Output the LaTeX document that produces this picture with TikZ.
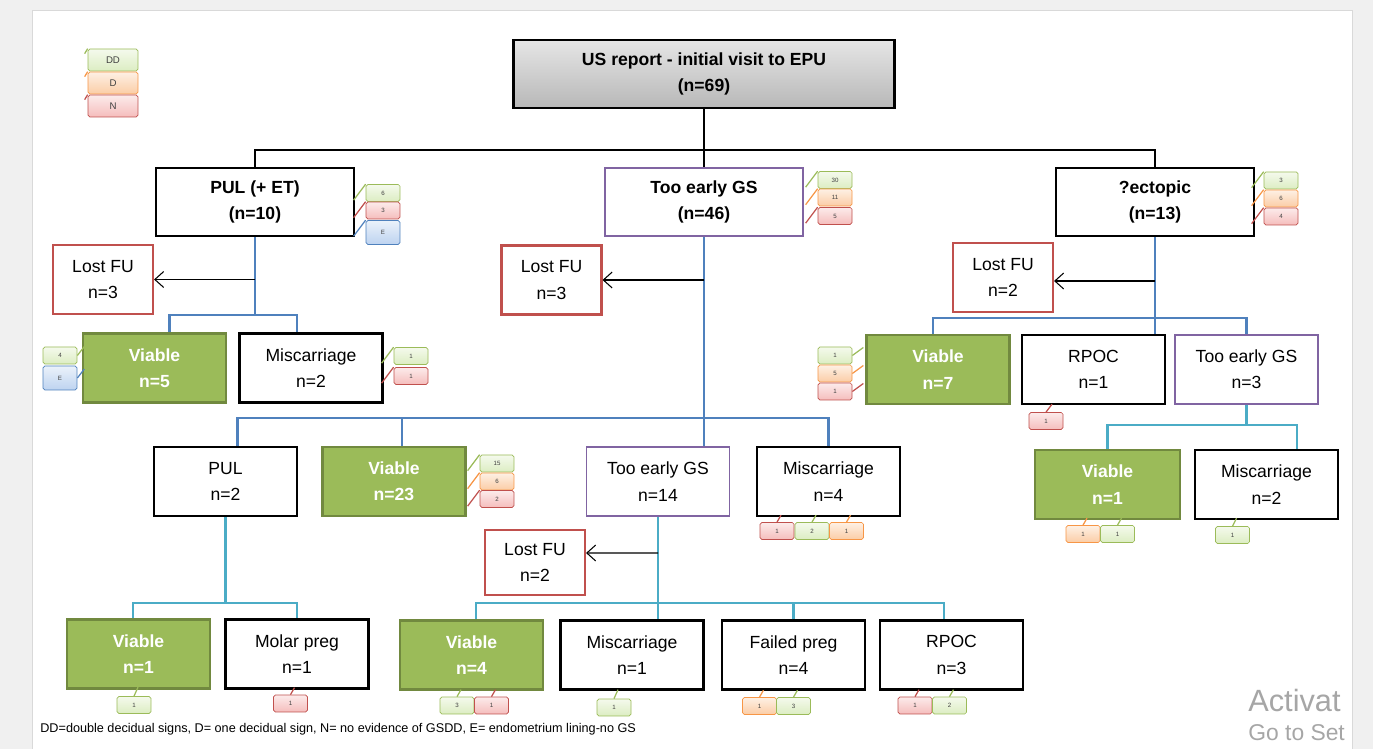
\documentclass[tikz,border=0pt]{standalone}
\usepackage{fontspec}
\setmainfont{Liberation Sans}
\usetikzlibrary{arrows.meta}

\definecolor{blueline}{HTML}{4F81BD}
\definecolor{tealline}{HTML}{4BACC6}
\definecolor{viablefill}{HTML}{9BBB59}
\definecolor{viabledraw}{HTML}{71893F}
\definecolor{lostred}{HTML}{C0504D}
\definecolor{earlypurple}{HTML}{8064A2}
\definecolor{ddline}{HTML}{9BBB59}
\definecolor{ddfill}{HTML}{DCEDC2}
\definecolor{odline}{HTML}{F79646}
\definecolor{odfill}{HTML}{FBCDA6}
\definecolor{noline}{HTML}{C0504D}
\definecolor{nofill}{HTML}{F5BDBC}
\definecolor{enline}{HTML}{4F81BD}
\definecolor{enfill}{HTML}{BDD3F0}

\tikzset{
    stage/.style={draw, line width=1.4pt, minimum width=2.86cm, minimum height=1.38cm,
        align=center, font=\fontsize{10}{15}\selectfont},
    head/.style={stage, minimum width=3.96cm, minimum height=1.36cm, font=\fontsize{10}{15}\selectfont\bfseries},
    viable/.style={stage, draw=viabledraw, fill=viablefill, text=white, font=\fontsize{10}{15}\selectfont\bfseries},
    early/.style={stage, draw=earlypurple, line width=1.1pt},
    lostfu/.style={stage, draw=lostred, line width=1.2pt, minimum width=2cm},
    trunk/.style={line width=1.6pt},
    branch/.style={line width=1.6pt, draw=blueline},
    twig/.style={line width=1.6pt, draw=tealline},
    fu/.style={line width=0.6pt, -{Straight Barb[length=5pt,width=9pt]}},
    sign/.style={rounded corners=1pt, minimum width=0.68cm, minimum height=0.34cm, inner sep=0pt,
        font=\fontsize{3.5}{4}\selectfont, text=black!75},
    sign dd/.style={sign, draw=ddline, top color=ddfill!30, bottom color=ddfill},
    sign od/.style={sign, draw=odline, top color=odfill!30, bottom color=odfill},
    sign no/.style={sign, draw=noline, top color=nofill!30, bottom color=nofill},
    sign en/.style={sign, draw=enline, top color=enfill!30, bottom color=enfill, minimum height=0.48cm},
    legendsign/.style={minimum width=1cm, minimum height=0.44cm, font=\fontsize{5.5}{6}\selectfont}
}

% [extra style]{name}{position}{kind}{label}{anchor}{pointer}
\newcommand{\signtag}[7][]{%
    \node[sign #4,#1] (#2) at (#3) {#5};
    \draw[#4line, line width=0.7pt] (#2.#6) -- ++(#7);}

\begin{document}
\begin{tikzpicture}[x=0.02cm, y=-0.02cm]
            \useasboundingbox (0,0) rectangle (1373,749);
            \fill[black!6] (0,0) rectangle (1373,749);
            \filldraw[fill=white, draw=black!15] (32,10) rectangle (1352,749);

            % legend
            \signtag[legendsign]{legDD}{113,60}{dd}{DD}{north west}{-3,5}
            \signtag[legendsign]{legD}{113,83}{od}{D}{north west}{-3,5}
            \signtag[legendsign]{legN}{113,106}{no}{N}{north west}{-3,5}

            % first level
            \node[head, top color=black!10, bottom color=black!28, minimum width=7.62cm] (top) at (704,74) {US report - initial visit to EPU\\(n=69)};
            \node[head] (pul) at (255,202) {PUL (+ ET)\\(n=10)};
            \node[head, draw=earlypurple, line width=1.1pt] (teg) at (704,202) {Too early GS\\(n=46)};
            \node[head] (ect) at (1155,202) {?ectopic\\(n=13)};

            \draw[trunk] (pul.north) |- (top.south |- 0,150) -| (ect.north);
            \draw[trunk] (top.south) -- (teg.north);

            \signtag{pulDD}{383,193}{dd}{6}{north west}{-12,16}
            \signtag{pulN}{383,210.5}{no}{3}{north west}{-12,16}
            \signtag{pulE}{383,232.5}{en}{E}{north west}{-12,16}
            \signtag{tegDD}{835,180}{dd}{30}{north west}{-12,16}
            \signtag{tegD}{835,197.5}{od}{11}{north west}{-12,16}
            \signtag{tegN}{835,216}{no}{5}{north west}{-12,16}
            \signtag{ectDD}{1281,180.5}{dd}{3}{north west}{-12,16}
            \signtag{ectD}{1281,198.5}{od}{6}{north west}{-12,16}
            \signtag{ectN}{1281,216.5}{no}{4}{north west}{-12,16}

            % PUL (+ ET)
            \node[lostfu] (lostA) at (103,279.5) {Lost FU\\n=3};
            \node[viable] (vi5) at (154.5,368) {Viable\\n=5};
            \node[stage] (mis2) at (311,368) {Miscarriage\\n=2};
            \draw[branch] (pul.south) -- (pul.south |- 0,315) coordinate (busL);
            \draw[branch] ([xshift=0.3cm]vi5.north) |- (busL) -| ([xshift=-0.28cm]mis2.north);
            \draw[fu] (pul.south |- lostA.east) -- (lostA.east);
            \signtag{vi5DD}{60,355.5}{dd}{4}{east}{7,-9}
            \signtag{vi5E}{60,378}{en}{E}{east}{7,-9}
            \signtag{mis2DD}{411,356}{dd}{1}{north west}{-12,16}
            \signtag{mis2N}{411,376}{no}{1}{north west}{-12,16}

            % Too early GS
            \node[lostfu] (lostB) at (551.5,280) {Lost FU\\n=3};
            \node[stage] (pul2) at (225.5,481.5) {PUL\\n=2};
            \node[viable] (vi23) at (394,481.5) {Viable\\n=23};
            \node[early] (teg14) at (658,481.5) {Too early GS\\n=14};
            \node[stage] (mis4) at (828.5,481.5) {Miscarriage\\n=4};
            \draw[branch] (teg.south) -- (teg.south |- teg14.north);
            \draw[branch] ([xshift=0.24cm]pul2.north) |- (teg.south |- 0,418) -| (mis4.north);
            \draw[branch] ([xshift=0.16cm]vi23.north) -- ([xshift=0.16cm]vi23.north |- 0,418);
            \draw[fu] (teg.south |- lostB.east) -- (lostB.east);
            \signtag{vi23DD}{497,463.5}{dd}{15}{north west}{-12,16}
            \signtag{vi23D}{497,481.5}{od}{6}{north west}{-12,16}
            \signtag{vi23N}{497,499}{no}{2}{north west}{-12,16}
            \signtag{mis4N}{777,531}{no}{1}{north}{4,-7}
            \signtag{mis4DD}{812,531}{dd}{2}{north}{4,-7}
            \signtag{mis4D}{846.5,531}{od}{1}{north}{4,-7}

            % PUL n=2
            \node[viable] (vi1a) at (138.5,654) {Viable\\n=1};
            \node[stage] (molar) at (297,654) {Molar preg\\n=1};
            \draw[twig] (pul2.south) -- (pul2.south |- 0,603) coordinate (busP);
            \draw[twig] ([xshift=-0.11cm]vi1a.north) |- (busP) -| (molar.north);
            \signtag{vi1aDD}{134,705}{dd}{1}{north}{4,-9}
            \signtag{molarN}{290.5,703.5}{no}{1}{north}{4,-7}

            % Too early GS n=14
            \node[lostfu, minimum height=1.3cm] (lostC) at (535,562.5) {Lost FU\\n=2};
            \node[viable] (vi4) at (471.5,655) {Viable\\n=4};
            \node[stage] (mis1) at (632,655) {Miscarriage\\n=1};
            \node[stage] (failed) at (793.5,655) {Failed preg\\n=4};
            \node[stage] (rpoc3) at (951.5,655) {RPOC\\n=3};
            \draw[twig] (teg14.south) -- (teg14.south |- mis1.north);
            \draw[twig] ([xshift=0.09cm]vi4.north) |- (teg14.south |- 0,603) -| ([xshift=-0.15cm]rpoc3.north);
            \draw[twig] (failed.north) -- (failed.north |- 0,603);
            \draw[fu] (teg14.south |- 0,553) -- ([yshift=0.19cm]lostC.east);
            \signtag{vi4DD}{457,705.5}{dd}{3}{north}{4,-7}
            \signtag{vi4N}{491.5,705.5}{no}{1}{north}{4,-7}
            \signtag{mis1DD}{614,707.5}{dd}{1}{north}{4,-9}
            \signtag{failedD}{759.5,706}{od}{1}{north}{4,-7}
            \signtag{failedDD}{793.5,706}{dd}{3}{north}{4,-7}
            \signtag{rpoc3N}{915,705.5}{no}{1}{north}{4,-7}
            \signtag{rpoc3DD}{949.5,705.5}{dd}{2}{north}{4,-7}

            % ?ectopic
            \node[lostfu] (lostD) at (1003,277.5) {Lost FU\\n=2};
            \node[viable] (vi7) at (938,369.5) {Viable\\n=7};
            \node[stage] (rpoc1) at (1093.5,369.5) {RPOC\\n=1};
            \node[early] (teg3) at (1246.5,369.5) {Too early GS\\n=3};
            \draw[branch] (ect.south) -- (ect.south |- rpoc1.north);
            \draw[branch] ([xshift=-0.1cm]vi7.north) |- (ect.south |- 0,318) -| (teg3.north);
            \draw[fu] (ect.south |- 0,281) -- (lostD.east |- 0,281);
            \signtag{vi7DD}{835,355.5}{dd}{1}{east}{11,-8}
            \signtag{vi7D}{835,373.5}{od}{5}{east}{11,-8}
            \signtag{vi7N}{835,391.5}{no}{1}{east}{11,-8}
            \signtag{rpoc1N}{1046,421}{no}{1}{north}{6,-8}

            % Too early GS n=3
            \node[viable, minimum width=2.9cm] (vi1b) at (1107.5,484.5) {Viable\\n=1};
            \node[stage] (mis2b) at (1266.5,484.5) {Miscarriage\\n=2};
            \draw[twig] (teg3.south) -- (teg3.south |- 0,425) coordinate (busR);
            \draw[twig] (vi1b.north) |- (busR) -| ([xshift=0.61cm]mis2b.north);
            \signtag{vi1bD}{1083,534}{od}{1}{north}{4,-7}
            \signtag{vi1bDD}{1117.5,534}{dd}{1}{north}{4,-7}
            \signtag{mis2bDD}{1232.5,535}{dd}{1}{north}{4,-8}

            \node[anchor=west, font=\fontsize{7.2}{8}\selectfont, inner sep=0pt] (key) at (40,729)
                {DD=double decidual signs, D= one decidual sign, N= no evidence of GSDD, E= endometrium lining-no GS};

            \node[anchor=west, inner sep=0pt, text=black!35, font=\fontsize{17.5}{20}\selectfont] (wm1) at (1248,701) {Activat};
            \node[anchor=west, inner sep=0pt, text=black!35, font=\fontsize{13}{14}\selectfont] (wm2) at (1248,733) {Go to Set};
        \end{tikzpicture}
\end{document}
